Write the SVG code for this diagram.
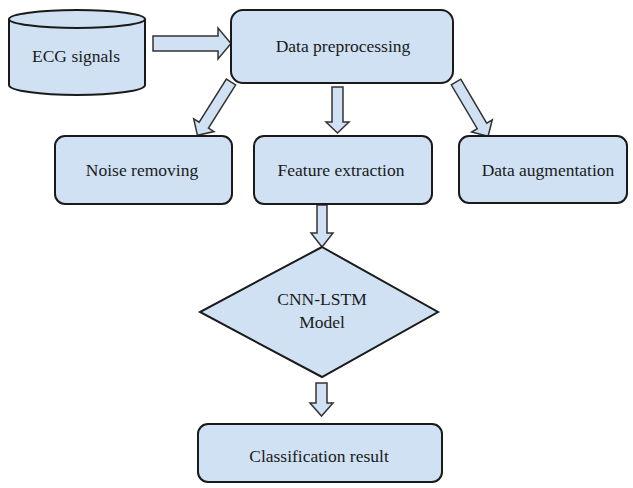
<svg xmlns="http://www.w3.org/2000/svg" width="633" height="488" viewBox="0 0 633 488">
  <style>
    .shape { fill: #cfe1f3; stroke: #1a1a1a; stroke-width: 2; }
    .arrow { fill: #cfe1f3; stroke: #333333; stroke-width: 1.5; stroke-linejoin: miter; }
    .label { font-family: "Liberation Serif", "Times New Roman", serif; font-size: 17.5px; fill: #1a1a1a; text-anchor: middle; }
  </style>
  <defs>
    <!-- block arrow pointing along +x, origin at the tail centre, length 63 -->
    <polygon id="diag-arrow" points="0,-5.5 51,-5.5 51,-12 63,0 51,12 51,5.5 0,5.5"/>
  </defs>
  <rect width="633" height="488" fill="#ffffff"/>

  <g id="connectors">
    <polygon class="arrow" points="153,36 218,36 218,28 231,43.5 218,59 218,51 153,51"/>
    <use href="#diag-arrow" class="arrow" transform="translate(231,82) rotate(122.2)"/>
    <polygon class="arrow" points="332,87 343,87 343,122 349,122 337.5,133 326,122 332,122"/>
    <use href="#diag-arrow" class="arrow" transform="translate(456,82) rotate(59.4)"/>
    <polygon class="arrow" points="317,205 327,205 327,233 333,233 322,247 311,233 317,233"/>
    <polygon class="arrow" points="316,383 327,383 327,403 333,403 321.5,416 310,403 316,403"/>
  </g>

  <g id="ecg-signals">
    <path class="shape" d="M9,19 A68,9 0 0,1 145,19 V85 A68,10 0 0,1 9,85 Z"/>
    <path d="M9,19 A68,9 0 0,0 145,19" fill="none" stroke="#1a1a1a" stroke-width="2"/>
    <text class="label" x="76" y="62">ECG signals</text>
  </g>

  <g id="data-preprocessing">
    <rect class="shape" x="231" y="10" width="222" height="73" rx="12"/>
    <text class="label" x="343" y="52">Data preprocessing</text>
  </g>

  <g id="noise-removing">
    <rect class="shape" x="55" y="136" width="177" height="68" rx="10"/>
    <text class="label" x="142" y="176">Noise removing</text>
  </g>

  <g id="feature-extraction">
    <rect class="shape" x="254" y="136" width="178" height="68" rx="10"/>
    <text class="label" x="341" y="176">Feature extraction</text>
  </g>

  <g id="data-augmentation">
    <rect class="shape" x="459" y="136" width="168" height="67" rx="10"/>
    <text class="label" x="548" y="176">Data augmentation</text>
  </g>

  <g id="cnn-lstm-model">
    <polygon class="shape" points="322,247 438,312 322,377 200,312"/>
    <text class="label" x="322" y="305">CNN-LSTM</text>
    <text class="label" x="322" y="328">Model</text>
  </g>

  <g id="classification-result">
    <rect class="shape" x="198" y="424" width="244" height="58" rx="10"/>
    <text class="label" x="319" y="462">Classification result</text>
  </g>
</svg>
